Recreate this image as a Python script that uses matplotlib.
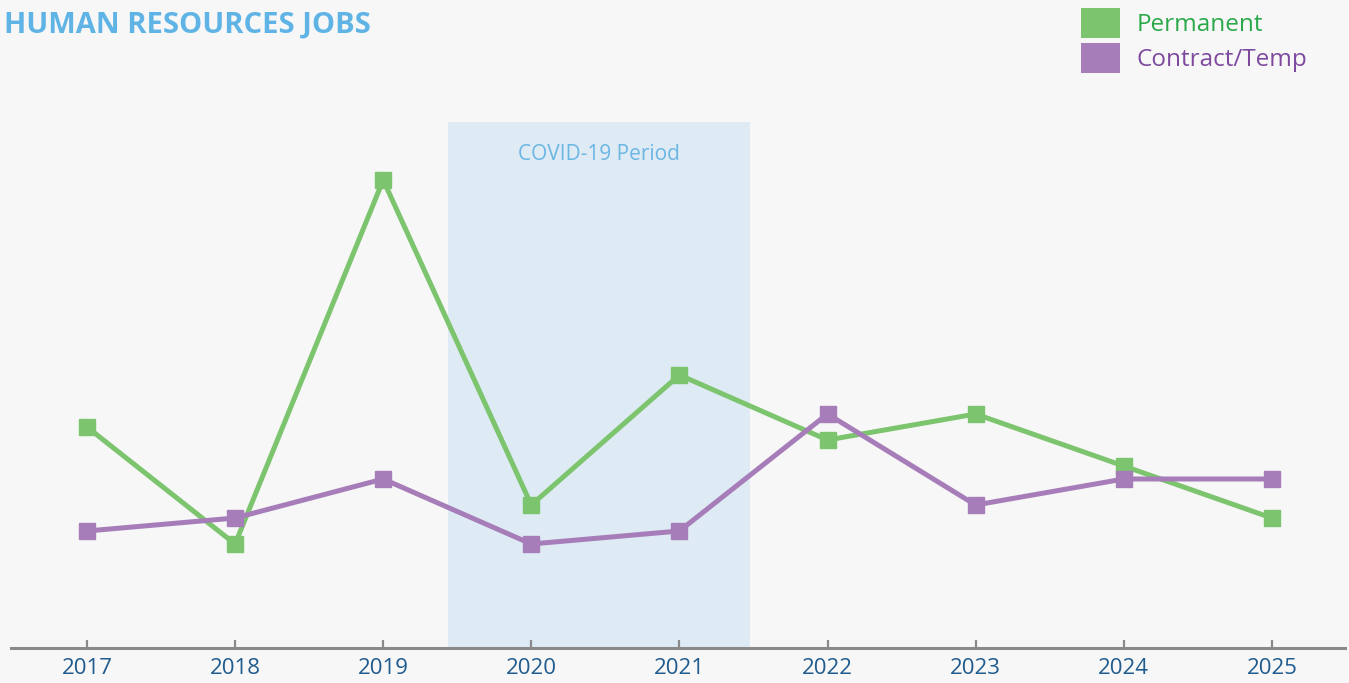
import matplotlib
matplotlib.use("Agg")
from matplotlib import pyplot as plt
from matplotlib.patches import Patch

plt.rcParams['font.family'] = ['Open Sans', 'DejaVu Sans']

years = [2017, 2018, 2019, 2020, 2021, 2022, 2023, 2024, 2025]
permanent = [17, 8, 36, 11, 21, 16, 18, 14, 10]
contract = [9, 10, 13, 8, 9, 18, 11, 13, 13]
covid_start, covid_end = 2019.44, 2021.48

bg = "#f7f7f7"
green = "#7dc46e"
purple = "#a77db9"

fig = plt.figure(figsize=(13.49, 6.83), dpi=100, facecolor=bg)
ax = fig.add_axes([11/1349, 35/683, 1334/1349, 548/683])
ax.set_facecolor(bg)

# covid shading
ax.fill_between([covid_start, covid_end], 0, 40.5, color="#deebf4", lw=0, zorder=1)
ax.text((covid_start + covid_end)/2, 38.0, "COVID-19 Period", ha="center", va="center",
        fontsize=15, color="#6cb6e4", zorder=2)

ax.plot(years, permanent, color=green, lw=3.6, marker="s", ms=11.5, zorder=3)
ax.plot(years, contract, color=purple, lw=3.6, marker="s", ms=11.5, zorder=4)

ax.set_xlim(2016.487, 2025.494)
ax.set_ylim(0, 548/13)
ax.set_xticks(years)
ax.set_xticklabels([str(y) for y in years])
ax.tick_params(axis="x", direction="in", length=6, width=1.6, color="#8a8a8a",
               labelsize=16, labelcolor="#1f5b8e", pad=7)
ax.set_yticks([])
for s in ["top", "right", "left"]:
    ax.spines[s].set_visible(False)
ax.spines["bottom"].set_color("#8a8a8a")
ax.spines["bottom"].set_linewidth(2.2)

fig.text(4/1349, 1 - 25/683, "HUMAN RESOURCES JOBS", ha="left", va="center",
         fontsize=21, fontweight="bold", color="#5fb4e5")

handles = [Patch(facecolor=green, edgecolor="none"), Patch(facecolor=purple, edgecolor="none")]
leg = fig.legend(handles, ["Permanent", "Contract/Temp"], loc="upper right",
                 bbox_to_anchor=(1 - 32/1349, 1 + 2/683), frameon=False, fontsize=17.5,
                 handlelength=1.6, handleheight=1.55, labelspacing=0.2, handletextpad=0.7,
                 borderaxespad=0)
for t, c in zip(leg.get_texts(), ["#2aa84a", "#7e4a9f"]):
    t.set_color(c)

fig.savefig("out.png", dpi=100, facecolor=bg)
